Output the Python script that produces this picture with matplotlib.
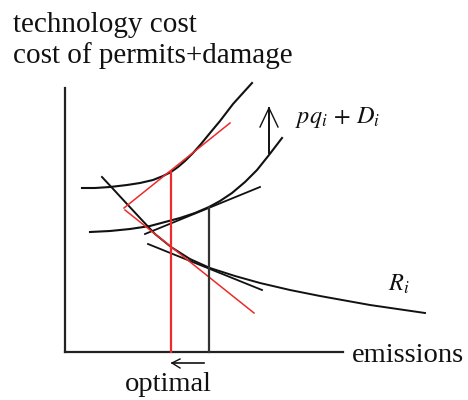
import numpy as np
import matplotlib
matplotlib.use("Agg")
import matplotlib.pyplot as plt

plt.rcParams['mathtext.fontset'] = 'stix'

# coordinates: (emissions, cost), origin at the axes corner
upper_e = [17, 30, 45, 62, 75, 88, 98, 106, 113, 120, 128, 136, 145, 155, 168, 187]
upper_c = [164, 164, 165, 167, 169, 172, 176, 180, 185, 191, 199, 208, 219, 231, 248, 269]

middle_e = [25, 45, 65, 85, 100, 115, 130, 144, 155, 167, 180, 192, 204, 217]
middle_c = [120, 121, 123, 126, 130, 134, 139, 145, 151, 159, 170, 182, 197, 214]
middle_tan_e = [80, 195]
middle_tan_c = [118, 165]

R_e = [37, 50, 62, 75, 90, 106, 125, 145, 170, 195, 225, 255, 305, 360]
R_c = [175, 161, 148, 134, 118, 105, 93, 84, 76, 69, 62, 56, 47, 39]
R_tan_e = [83, 197]
R_tan_c = [108, 62]

red_up_e = [59, 165]
red_up_c = [144, 229]
red_down_e = [60, 189]
red_down_c = [142, 39]

optimal_e, optimal_c = 106, 180      # red vertical (optimum)
initial_e, initial_c = 144, 145      # black vertical (initial)

axis_top = 264
axis_right = 278

fig = plt.figure(figsize=(4.68, 4.0), dpi=100)
ax = fig.add_axes([0, 0, 1, 1])
ax.set_xlim(-65, 403)
ax.set_ylim(-48, 352)
ax.axis('off')

k = '#111111'
red = '#ee2a2a'

# axes of the diagram
ax.plot([0, 0], [0, axis_top], color='#222222', lw=1.6)
ax.plot([0, axis_right], [0, 0], color='#222222', lw=1.6)

# curves
ax.plot(upper_e, upper_c, color=k, lw=1.5)
ax.plot(middle_e, middle_c, color=k, lw=1.5)
ax.plot(middle_tan_e, middle_tan_c, color=k, lw=1.3)
ax.plot(R_e, R_c, color=k, lw=1.4)
ax.plot(R_tan_e, R_tan_c, color=k, lw=1.3)

# red tangents
ax.plot(red_up_e, red_up_c, color=red, lw=1.1)
ax.plot(red_down_e, red_down_c, color=red, lw=1.1)

# verticals
ax.plot([optimal_e, optimal_e], [0, optimal_c], color=red, lw=1.6)
ax.plot([initial_e, initial_e], [0, initial_c], color='#333333', lw=1.6)

# upward shift arrow
ax.plot([204, 204], [199, 244], color=k, lw=1.4)
ax.plot([195, 204, 213], [225, 244, 225], color=k, lw=1.0)

# arrow below axis
ax.plot([107, 139], [-11, -11], color=k, lw=1.2)
ax.plot([115, 107, 115], [-7, -11, -16], color=k, lw=1.0)

font = 'Liberation Serif'
ax.text(-52, 320, 'technology cost', fontsize=21, family=font, va='baseline', color=k)
ax.text(-52, 289, 'cost of permits+damage', fontsize=21, family=font, va='baseline', color=k)
ax.text(287, 0, 'emissions', fontsize=20.5, family=font, va='center_baseline', color=k)
ax.text(60, -39, 'optimal', fontsize=20.5, family=font, va='baseline', color=k)
ax.text(230, 229, r'$pq_i\,+\,D_i$', fontsize=17.5, va='baseline', color=k)
ax.text(323, 61, r'$R_i$', fontsize=17.5, va='baseline', color=k)

fig.savefig('out.png', dpi=100)
